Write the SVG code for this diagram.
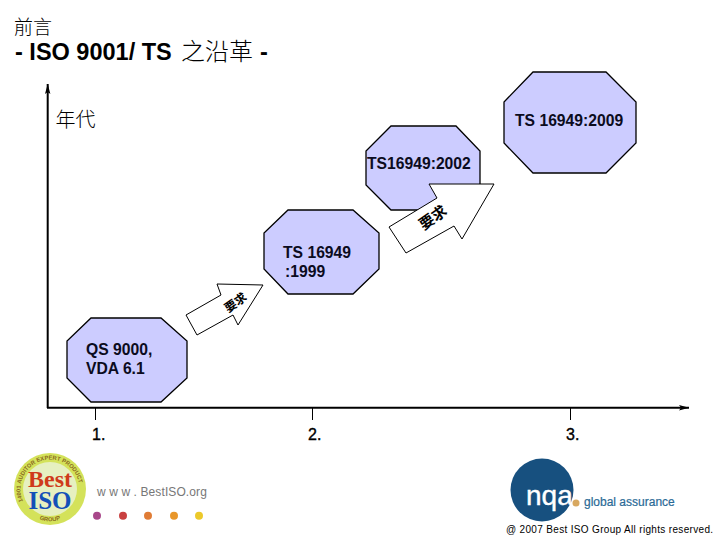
<svg xmlns="http://www.w3.org/2000/svg" width="720" height="540" viewBox="0 0 720 540">
<style>
text{font-family:"Liberation Sans","Noto Sans CJK TC",Arial,sans-serif;fill:#000}
.oct{fill:#ccccff;stroke:#000;stroke-width:1.3}
.lab{font-size:15.7px;font-weight:700;fill:#0b0b20}
.arr{fill:#fff;stroke:#000;stroke-width:1}
.cjk{font-family:"Noto Sans CJK TC",sans-serif;font-weight:700;font-size:15px}
.thin{font-family:"Noto Sans CJK TC",sans-serif;font-weight:300}
.num{font-size:16px;stroke:#000;stroke-width:.35}
.ring{font-size:5.800px;font-weight:700;fill:#8a6a20}
.lg{font-family:"Liberation Serif",serif;font-weight:700}
</style>
<defs>
<marker id="ah" markerUnits="userSpaceOnUse" markerWidth="11" markerHeight="7" refX="10" refY="3.500" orient="auto"><path d="M0 .8L10 3.500L0 6.200L2 3.500Z" fill="#000"/></marker>
<path id="ringTop" d="M24 502A29.500 29.500 0 1 1 76 502"/>
<path id="ringBot" d="M32 516A33.500 33.500 0 0 0 68 516"/>
</defs>
<rect width="720" height="540" fill="#fff"/>
<text class="thin" x="14" y="34" font-size="19">前言</text>
<text x="15" y="60" font-size="23.500" font-weight="700">- ISO 9001/ TS</text>
<text class="thin" x="181" y="60" font-size="24">之沿革</text>
<text x="260" y="60" font-size="23.500" font-weight="700">-</text>
<g id="connectors">
<path d="M47.700 408V84" stroke="#000" stroke-width="2" fill="none" marker-end="url(#ah)"/>
<path d="M47 407.800H689" stroke="#000" stroke-width="2" fill="none" marker-end="url(#ah)"/>
<path d="M95.500 408V420M312.500 408V420M570.500 408V420" stroke="#000" stroke-width="1" fill="none"/>
</g>
<text class="thin" x="55.500" y="127" font-size="20">年代</text>
<g id="node-2009">
<polygon class="oct" points="533,72 606,72 636,102 636,143 606,173 533,173 504,143 504,102"/>
<text class="lab" x="515" y="126">TS 16949:2009</text>
</g>
<g id="node-2002">
<polygon class="oct" points="391,126 456,126 480,151 480,185 456,210 391,210 366,185 366,151"/>
<text class="lab" x="367" y="169">TS16949:2002</text>
</g>
<g id="node-1999">
<polygon class="oct" points="288,210 353,210 379,233 379,269 353,294 288,294 264,269 264,233"/>
<text class="lab" x="283" y="258">TS 16949</text>
<text class="lab" x="285" y="277">:1999</text>
</g>
<g id="node-qs">
<polygon class="oct" points="91,318 161,318 187,341 187,378 161,402 91,402 67,378 67,341"/>
<text class="lab" x="86" y="355">QS 9000,</text>
<text class="lab" x="86" y="374">VDA 6.1</text>
</g>
<g id="arrow-big">
<polygon class="arr" points="389,227 437,198 429,184 494,184 462,239 454,226 406,253"/>
<text class="cjk" transform="translate(436,222) rotate(-35)" text-anchor="middle">要求</text>
</g>
<g id="arrow-small">
<polygon class="arr" points="186,315 221,295 217,284 263,285 238,325 233,315 197,335"/>
<text class="cjk" style="font-size:12px" transform="translate(238,306) rotate(-35)" text-anchor="middle">要求</text>
</g>
<text class="num" x="92" y="440">1.</text>
<text class="num" x="308" y="440">2.</text>
<text class="num" x="566" y="440">3.</text>
<g id="logo-best">
<circle cx="50" cy="489" r="36" fill="#d4e25a"/>
<circle cx="50" cy="489" r="27" fill="#e6f0c0"/>
<text class="ring" transform="translate(0 1)"><textPath href="#ringTop" startOffset="2">14001 AUDITOR EXPERT PRODUCT</textPath></text>
<text class="ring" text-anchor="middle"><textPath href="#ringBot" startOffset="50%">GROUP</textPath></text>
<text class="lg" x="50" y="487" text-anchor="middle" style="font-size:24px;fill:#cf3a1a">Best</text>
<text class="lg" x="50" y="509" text-anchor="middle" style="font-size:25px;fill:#1450b8">ISO</text>
</g>
<text x="97" y="496" font-size="12" style="fill:#777;letter-spacing:.1px">w w w . BestISO.org</text>
<circle cx="97" cy="515.700" r="4" fill="#a8478a"/>
<circle cx="123" cy="515.700" r="4" fill="#c94040"/>
<circle cx="148" cy="515.700" r="4" fill="#e07c35"/>
<circle cx="174" cy="515.700" r="4" fill="#e8962a"/>
<circle cx="199" cy="515.700" r="4" fill="#ecc92a"/>
<g id="logo-nqa">
<circle cx="542" cy="490" r="31.500" fill="#17507f"/>
<text x="526" y="505" style="font-size:28px;fill:#fff;stroke:#fff;stroke-width:.4">nqa</text>
<circle cx="576" cy="503" r="3.500" fill="#d8a860"/>
<text x="584" y="506" style="font-size:12px;fill:#2a6a96;stroke:#2a6a96;stroke-width:.2">global assurance</text>
</g>
<text x="506" y="533" font-size="10" style="letter-spacing:.33px">@ 2007 Best ISO Group  All rights reserved.</text>
</svg>
